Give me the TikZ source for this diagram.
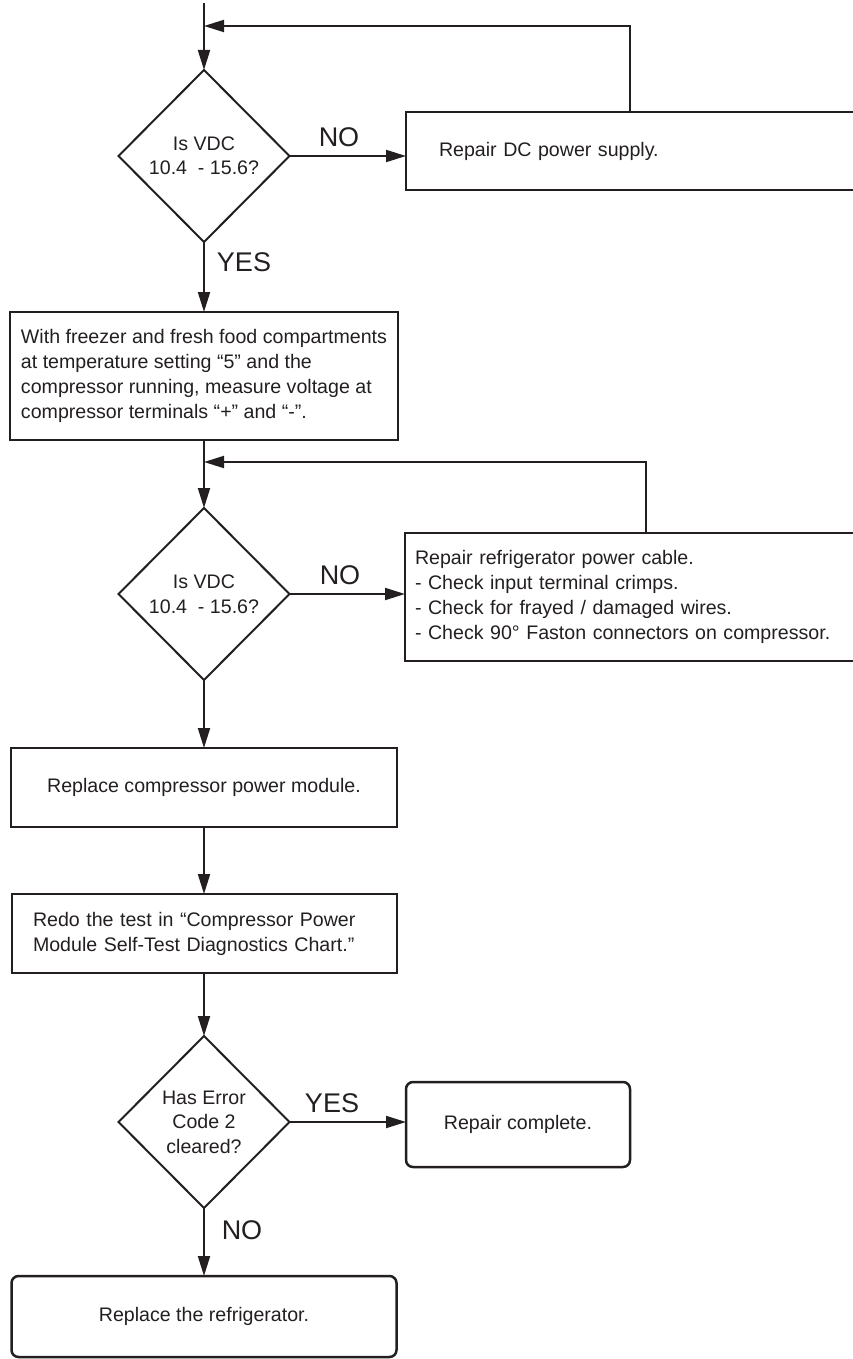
\documentclass[tikz,border=0pt]{standalone}
\usepackage{fontspec}
\setmainfont{Liberation Sans}
\usetikzlibrary{shapes.geometric,arrows.meta}
\definecolor{tinte}{HTML}{231F20}
\begin{document}
\begin{tikzpicture}[
      x=1pt, y=-1pt,
      pfeil/.style={line width=2pt, draw=tinte,
        -{Triangle[length=20pt,width=12pt]}},
      kasten/.style={rectangle, draw=tinte, line width=2.5pt, outer sep=0pt,
        text=tinte, font=\fontsize{19.6}{25}\selectfont},
      rkasten/.style={kasten, rounded corners=7pt},
      raute/.style={diamond, draw=tinte, line width=2pt, outer sep=0pt,
        inner sep=0pt, align=center, text=tinte,
        font=\fontsize{19.6}{24.5}\selectfont,
        minimum width=171pt, minimum height=172pt},
      antwort/.style={inner sep=0pt, text=tinte, font=\fontsize{27}{27}\selectfont}
    ]
    \useasboundingbox (0,0) rectangle (853,1359);
    \path (204,156)    node(d1) [raute] {Is VDC\\10.4~ - 15.6?}
    (406,151)  node(b1) [kasten, anchor=west, text width=398pt, inner xsep=33pt,
                         minimum height=78pt, align=left] {Repair DC power supply.}
    (204,376)  node(b2) [kasten, minimum width=388pt, minimum height=128pt, align=left]
               {With freezer and fresh food compartments\\at temperature setting “5” and the\\
                compressor running, measure voltage at\\compressor terminals “+” and “-”.}
    (204,594)  node(d2) [raute] {Is VDC\\10.4~ - 15.6?}
    (405,597)  node(b3) [kasten, anchor=west, text width=445pt, inner xsep=10pt,
                         minimum height=128pt, align=left]
               {Repair refrigerator power cable.\\- Check input terminal crimps.\\
                - Check for frayed / damaged wires.\\- Check 90° Faston connectors on compressor.}
    (204,787.5) node(b4) [kasten, minimum width=386pt, minimum height=79pt]
               {Replace compressor power module.}
    (12,933.5) node(b5) [kasten, anchor=west, text width=343pt, inner xsep=21pt,
                         minimum height=79pt, align=left]
               {Redo the test in “Compressor Power\\Module Self-Test Diagnostics Chart.”}
    (204,1122) node(d3) [raute] {Has Error\\Code 2\\cleared?}
    (518,1124.5) node(b6) [rkasten, minimum width=224pt, minimum height=85pt]
               {Repair complete.}
    (204,1316.5) node(b7) [rkasten, minimum width=385pt, minimum height=81pt]
               {Replace the refrigerator.};
    \node[antwort] (nein1) at (339,137) {NO};
    \node[antwort] (ja1) at (244,262) {YES};
    \node[antwort] (nein2) at (340,575) {NO};
    \node[antwort] (ja3) at (332,1103) {YES};
    \node[antwort] (nein3) at (242,1230) {NO};
    \coordinate (start) at (204,3);
    \coordinate (m1) at (204,26);
    \coordinate (r1) at (630,26);
    \coordinate (m2) at (204,462);
    \coordinate (r2) at (646,462);
    \draw[pfeil] (start) -- (d1.north);
    \draw[pfeil] (b1.north -| r1) -- (r1) -- (m1);
    \draw[pfeil] (d1.east) -- (d1.east -| b1.west);
    \draw[pfeil] (d1.south) -- (b2.north);
    \draw[pfeil] (b2.south) -- (d2.north);
    \draw[pfeil] (b3.north -| r2) -- (r2) -- (m2);
    \draw[pfeil] (d2.east) -- (d2.east -| b3.west);
    \draw[pfeil] (d2.south) -- (b4.north);
    \draw[pfeil] (b4.south) -- (b5.north -| b4.south);
    \draw[pfeil] (b5.south -| d3.north) -- (d3.north);
    \draw[pfeil] (d3.east) -- (d3.east -| b6.west);
    \draw[pfeil] (d3.south) -- (b7.north);
  \end{tikzpicture}
\end{document}
